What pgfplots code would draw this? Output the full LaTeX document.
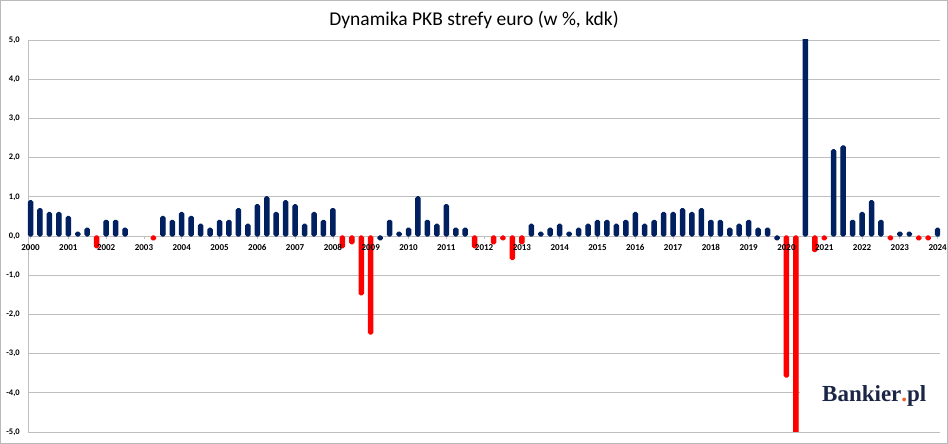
\documentclass[border=0pt]{standalone}
\usepackage{fontspec}
\setmainfont{Carlito}
\newfontfamily\logofont{Liberation Serif}
\usepackage{pgfplots}
\pgfplotsset{compat=1.18}
\usepackage{pgfplotstable}
\definecolor{navy}{HTML}{002060}
\definecolor{barred}{HTML}{FF0000}
\definecolor{gridgray}{HTML}{BFBFBF}
\definecolor{logonavy}{HTML}{1B2545}
\definecolor{logoorange}{HTML}{F05A28}

\pgfplotstableread{
i n r
0 0.9 nan
1 0.7 nan
2 0.6 nan
3 0.6 nan
4 0.5 nan
5 0.1 nan
6 0.2 nan
7 nan -0.3
8 0.4 nan
9 0.4 nan
10 0.2 nan
11 nan nan
12 nan nan
13 nan -0.1
14 0.5 nan
15 0.4 nan
16 0.6 nan
17 0.5 nan
18 0.3 nan
19 0.2 nan
20 0.4 nan
21 0.4 nan
22 0.7 nan
23 0.3 nan
24 0.8 nan
25 1.0 nan
26 0.6 nan
27 0.9 nan
28 0.8 nan
29 0.3 nan
30 0.6 nan
31 0.4 nan
32 0.7 nan
33 nan -0.3
34 nan -0.2
35 nan -1.5
36 nan -2.5
37 -0.1 nan
38 0.4 nan
39 0.1 nan
40 0.2 nan
41 1.0 nan
42 0.4 nan
43 0.3 nan
44 0.8 nan
45 0.2 nan
46 0.2 nan
47 nan -0.3
48 nan nan
49 nan -0.2
50 nan -0.1
51 nan -0.6
52 nan -0.2
53 0.3 nan
54 0.1 nan
55 0.2 nan
56 0.3 nan
57 0.1 nan
58 0.2 nan
59 0.3 nan
60 0.4 nan
61 0.4 nan
62 0.3 nan
63 0.4 nan
64 0.6 nan
65 0.3 nan
66 0.4 nan
67 0.6 nan
68 0.6 nan
69 0.7 nan
70 0.6 nan
71 0.7 nan
72 0.4 nan
73 0.4 nan
74 0.2 nan
75 0.3 nan
76 0.4 nan
77 0.2 nan
78 0.2 nan
79 -0.1 nan
80 nan -3.6
81 nan -11.2
82 12.4 nan
83 nan -0.4
84 nan -0.1
85 2.2 nan
86 2.3 nan
87 0.4 nan
88 0.6 nan
89 0.9 nan
90 0.4 nan
91 nan -0.1
92 0.1 nan
93 0.1 nan
94 nan -0.1
95 nan -0.1
96 0.2 nan
}\gdp

\pgfplotsset{
  common/.style={
    at={(28pt,12pt)}, anchor=south west,
    scale only axis, width=912pt, height=392pt,
    xmin=-0.27, xmax=96.25, ymin=-5, ymax=5,
    axis x line=middle, axis y line=left,
    axis line style={-, draw=gridgray, line width=0.8pt},
    ytick={-5,-4,...,5},
    xtick={0,4,...,96},
    xticklabels={2000,2001,2002,2003,2004,2005,2006,2007,2008,2009,2010,2011,2012,2013,2014,2015,2016,2017,2018,2019,2020,2021,2022,2023,2024},
    tick align=outside, major tick length=3pt,
    xticklabel style={font=\bfseries\fontsize{9}{10}\selectfont, inner sep=1pt, yshift=-4.5pt},
  },
}

\begin{document}
\begin{tikzpicture}[x=1pt,y=1pt]
\useasboundingbox (0,0) rectangle (948,444);
\fill[white] (0,0) rectangle (948,444);
\draw[gray!55, line width=1pt] (0.5,0.5) rectangle (947.5,443.5);
\node[font=\fontsize{19.5}{22}\selectfont, anchor=base] at (474,418) {Dynamika PKB strefy euro (w \%, kdk)};
\begin{axis}[
  common,
  yticklabels={{-5,0},{-4,0},{-3,0},{-2,0},{-1,0},{0,0},{1,0},{2,0},{3,0},{4,0},{5,0}},
  ymajorgrids, grid style={gridgray, line width=0.8pt},
  ytick style={draw=none},
  xtick style={draw=gridgray, line width=0.8pt},
  xticklabel style={text opacity=0},
  yticklabel style={font=\bfseries\fontsize{8.5}{10}\selectfont, inner sep=1pt, xshift=-4pt},
  ybar, bar width=4.4pt,
  clip=true,
]
\addplot[ybar, bar shift=0pt, fill=navy, draw=navy, line width=1.1pt, rounded corners=1.5pt] table[x=i,y=n]{\gdp};
\addplot[ybar, bar shift=0pt, fill=barred, draw=barred, line width=1.1pt, rounded corners=1.5pt] table[x=i,y=r]{\gdp};
\end{axis}
\begin{axis}[
  common,
  axis line style={draw=none},
  xtick style={draw=none},
  yticklabels={},
  ytick style={draw=none},
]
\end{axis}
\fill[white] (800,16) rectangle (942,86);
\node[font=\logofont\bfseries\fontsize{23}{26}\selectfont, text=logonavy, anchor=west, inner sep=0pt] at (822,48) {Bankier\textcolor{logoorange}{.}pl};
\end{tikzpicture}
\end{document}
